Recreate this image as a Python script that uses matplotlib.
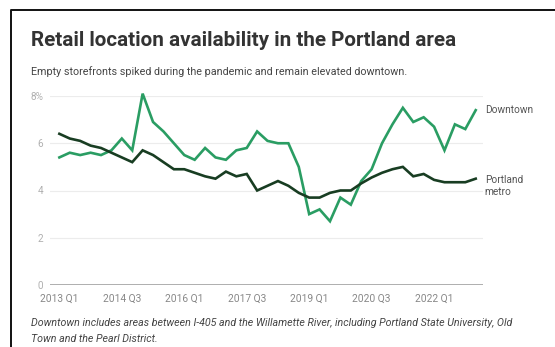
import matplotlib
matplotlib.use("Agg")
from matplotlib import pyplot as plt
from matplotlib.lines import Line2D
import numpy as np

plt.rcParams['font.family'] = ['Roboto', 'DejaVu Sans']

# quarterly retail availability (%), 2013 Q1 - 2023 Q1
quarters = ["%d Q%d" % (y, q) for y in range(2013, 2024) for q in range(1, 5)][:41]
downtown = [5.4, 5.6, 5.5, 5.6, 5.5, 5.7, 6.2, 5.7, 8.1, 6.9,
            6.5, 6.0, 5.5, 5.3, 5.8, 5.4, 5.3, 5.7, 5.8, 6.5,
            6.1, 6.0, 6.0, 5.0, 3.0, 3.2, 2.7, 3.7, 3.4, 4.4,
            4.9, 6.0, 6.8, 7.5, 6.9, 7.1, 6.7, 5.7, 6.8, 6.6, 7.4]
metro = [6.4, 6.2, 6.1, 5.9, 5.8, 5.6, 5.4, 5.2, 5.7, 5.5,
         5.2, 4.9, 4.9, 4.75, 4.6, 4.5, 4.8, 4.6, 4.7, 4.0,
         4.2, 4.4, 4.2, 3.9, 3.7, 3.7, 3.9, 4.0, 4.0, 4.3,
         4.55, 4.75, 4.9, 5.0, 4.6, 4.7, 4.45, 4.35, 4.35, 4.35, 4.5]
xtick_labels = ["2013 Q1", "2014 Q3", "2016 Q1", "2017 Q3", "2019 Q1", "2020 Q3", "2022 Q1"]
ytick_values = [0, 2, 4, 6, 8]
ytick_labels = ["0", "2", "4", "6", "8%"]

W, H = 555, 347
fig = plt.figure(figsize=(W / 100, H / 100), dpi=100)
fig.patch.set_facecolor("white")

def px(x, y):
    return x / W, 1 - y / H

# frame around the graphic (top and left edges visible)
fig.add_artist(Line2D([11 / W, 11 / W, 1], [0, 1 - 10 / H, 1 - 10 / H],
                      color="#111111", lw=1.4, transform=fig.transFigure))

fig.text(*px(31, 41), "Retail location availability in the Portland area",
         fontsize=14.9, fontweight="bold", color="#333333", va="center")
fig.text(*px(31, 72), "Empty storefronts spiked during the pandemic and remain elevated downtown.",
         fontsize=7.75, color="#444444", va="center")
fig.text(*px(31, 323), "Downtown includes areas between I-405 and the Willamette River, including Portland State University, Old",
         fontsize=7.7, style="italic", color="#444444", va="center")
fig.text(*px(31, 339), "Town and the Pearl District.",
         fontsize=7.7, style="italic", color="#444444", va="center")

ax = fig.add_axes([50 / W, (H - 285) / H, 433 / W, (285 - 96) / H])
x = np.arange(len(quarters))

for v in ytick_values[1:]:
    ax.axhline(v, color="#ececec", lw=0.8, zorder=0)
ax.axhline(0, color="#a8a8a8", lw=1.3, zorder=1)

ax.plot(x, downtown, color="#2a9d63", lw=1.9, solid_joinstyle="miter", clip_on=False, zorder=3)
ax.plot(x, metro, color="#183d22", lw=1.9, solid_joinstyle="miter", clip_on=False, zorder=3)

ax.annotate("Downtown", xy=(x[-1], downtown[-1]), xytext=(6.5, 0), textcoords="offset points",
            va="center", ha="left", fontsize=7.3, color="#555555", annotation_clip=False)
ax.annotate("Portland\nmetro", xy=(x[-1], metro[-1]), xytext=(6.5, 2.5), textcoords="offset points",
            va="top", ha="left", fontsize=7.3, color="#555555", linespacing=1.25,
            annotation_clip=False)

ax.set_xlim(-0.9, len(quarters) - 1 + 0.7)
ax.set_ylim(0, 8)
ax.set_xticks([quarters.index(q) for q in xtick_labels])
ax.set_xticklabels(xtick_labels)
ax.set_yticks(ytick_values)
ax.set_yticklabels(ytick_labels)
ax.tick_params(axis="x", length=0, pad=6, labelsize=7.4, labelcolor="#888888")
ax.tick_params(axis="y", length=0, pad=5, labelsize=7.2, labelcolor="#b0b0b0")
for s in ax.spines.values():
    s.set_visible(False)
ax.set_facecolor("none")

fig.savefig("out.png", dpi=100, facecolor="white")
